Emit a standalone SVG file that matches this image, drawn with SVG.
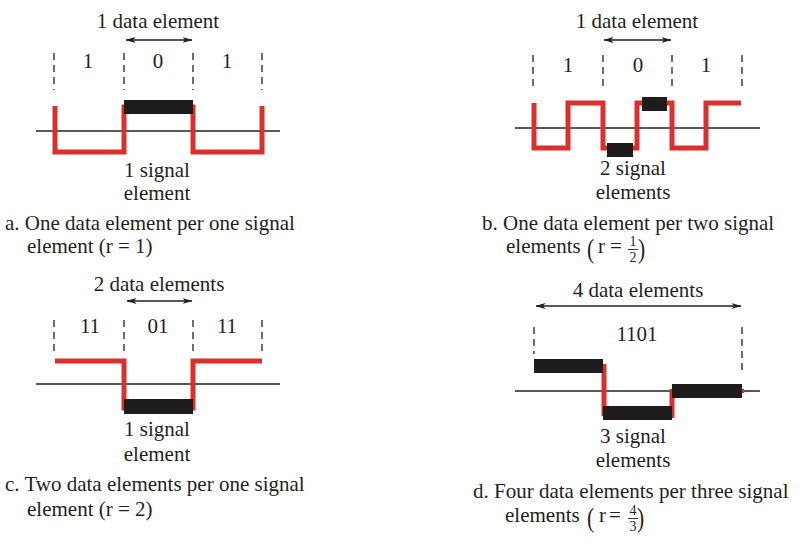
<svg xmlns="http://www.w3.org/2000/svg" width="810" height="545" viewBox="0 0 810 545">
<defs>
<marker id="ah" viewBox="0 0 10 6" refX="9.5" refY="3" markerWidth="10" markerHeight="6" markerUnits="userSpaceOnUse" orient="auto-start-reverse">
<path d="M0,0 L10,3 L0,6 L2.5,3 Z" fill="#231f20"/>
</marker>
<style>
text{font-family:"Liberation Serif","Times New Roman",serif;font-size:21px;fill:#231f20}
.m{text-anchor:middle}
.dash{stroke:#231f20;stroke-width:1.3;stroke-dasharray:7,5;fill:none}
.base{stroke:#231f20;stroke-width:1.4;fill:none}
.sig{stroke:#d9302c;stroke-width:5;fill:none;stroke-linejoin:miter;stroke-linecap:butt}
.bar{fill:#1e1c1d}
.arr{stroke:#231f20;stroke-width:1.3;fill:none;marker-start:url(#ah);marker-end:url(#ah)}
.par{font-size:27px}
.fr{font-size:14px;text-anchor:middle}
.fb{stroke:#231f20;stroke-width:0.9}
</style>
</defs>

<!-- Panel a -->
<g id="panel-a">
<text class="m" x="158" y="28">1 data element</text>
<line class="dash" x1="54" y1="53" x2="54" y2="90"/>
<line class="dash" x1="124" y1="53" x2="124" y2="90"/>
<line class="dash" x1="193" y1="53" x2="193" y2="90"/>
<line class="dash" x1="262" y1="53" x2="262" y2="90"/>
<text class="m" x="88" y="68">1</text>
<text class="m" x="158" y="68">0</text>
<text class="m" x="227" y="68">1</text>
<line class="base" x1="36" y1="131" x2="280" y2="131"/>
<path class="sig" d="M55,106 V152 H124 V107 H193 V152 H262 V106"/>
<rect class="bar" x="124" y="100" width="69" height="14"/>
<text class="m" x="157" y="177">1 signal</text>
<text class="m" x="157" y="200">element</text>
<text x="5" y="230">a. One data element per one signal</text>
<text x="27" y="253">element (r = 1)</text>
</g>

<!-- Panel b -->
<g id="panel-b">
<text class="m" x="637" y="28">1 data element</text>
<line class="dash" x1="533" y1="55" x2="533" y2="90"/>
<line class="dash" x1="603" y1="55" x2="603" y2="90"/>
<line class="dash" x1="672" y1="55" x2="672" y2="90"/>
<line class="dash" x1="742" y1="55" x2="742" y2="90"/>
<text class="m" x="568" y="72">1</text>
<text class="m" x="638" y="72">0</text>
<text class="m" x="706" y="72">1</text>
<line class="base" x1="515" y1="128" x2="760" y2="128"/>
<path class="sig" d="M534,103 V148 H568 V103 H603 V148 H637 V103 H672 V148 H706 V103 H741"/>
<rect class="bar" x="607" y="143" width="26" height="14"/>
<rect class="bar" x="642" y="97" width="25" height="14"/>
<text class="m" x="633" y="175">2 signal</text>
<text class="m" x="633" y="199">elements</text>
<text x="482" y="230">b. One data element per two signal</text>
<text x="506" y="253">elements</text>
<text class="par" transform="translate(587,258) scale(0.8,1)">(</text>
<text x="598" y="253">r</text>
<text x="610" y="253">=</text>
<text class="fr" x="633" y="246">1</text>
<line class="fb" x1="628" y1="249.5" x2="638" y2="249.5"/>
<text class="fr" x="633" y="262">2</text>
<text class="par" transform="translate(638,258) scale(0.8,1)">)</text>
</g>

<!-- Panel c -->
<g id="panel-c">
<text class="m" x="159" y="291">2 data elements</text>
<line class="dash" x1="54" y1="320" x2="54" y2="354"/>
<line class="dash" x1="124" y1="320" x2="124" y2="354"/>
<line class="dash" x1="193" y1="320" x2="193" y2="354"/>
<line class="dash" x1="262" y1="320" x2="262" y2="354"/>
<text class="m" x="90" y="333">11</text>
<text class="m" x="158" y="333">01</text>
<text class="m" x="227" y="333">11</text>
<line class="base" x1="36" y1="384" x2="280" y2="384"/>
<path class="sig" d="M55,361 H124 V408 H193 V361 H262"/>
<rect class="bar" x="124" y="399" width="69" height="15"/>
<text class="m" x="157" y="436">1 signal</text>
<text class="m" x="157" y="461">element</text>
<text x="5" y="491">c. Two data elements per one signal</text>
<text x="27" y="516">element (r = 2)</text>
</g>

<!-- Panel d -->
<g id="panel-d">
<text class="m" x="638" y="297">4 data elements</text>
<text class="m" x="637" y="341">1101</text>
<line class="dash" x1="534" y1="327" x2="534" y2="354"/>
<line class="dash" x1="742" y1="327" x2="742" y2="373"/>
<line class="base" x1="515" y1="391" x2="760" y2="391"/>
<path class="sig" d="M604,364 V416"/>
<path class="sig" d="M672,389 V418"/>
<path d="M741,391 h3" stroke="#d9302c" stroke-width="4"/>
<rect class="bar" x="534" y="359" width="69" height="14"/>
<rect class="bar" x="603" y="406" width="69" height="14"/>
<rect class="bar" x="672" y="384" width="70" height="14"/>
<text class="m" x="633" y="443">3 signal</text>
<text class="m" x="633" y="467">elements</text>
<text x="473" y="498">d. Four data elements per three signal</text>
<text x="505" y="522">elements</text>
<text class="par" transform="translate(587,527) scale(0.8,1)">(</text>
<text x="599" y="522">r</text>
<text x="609" y="522">=</text>
<text class="fr" x="633" y="515">4</text>
<line class="fb" x1="628" y1="518.5" x2="638" y2="518.5"/>
<text class="fr" x="633" y="531">3</text>
<text class="par" transform="translate(637,527) scale(0.8,1)">)</text>
</g>

<!-- Connectors -->
<g id="connectors">
<line class="arr" x1="126" y1="40" x2="192" y2="40"/>
<line class="arr" x1="604" y1="40" x2="671" y2="40"/>
<line class="arr" x1="127" y1="301" x2="192" y2="301"/>
<line class="arr" x1="536" y1="306" x2="741" y2="306"/>
</g>
</svg>
